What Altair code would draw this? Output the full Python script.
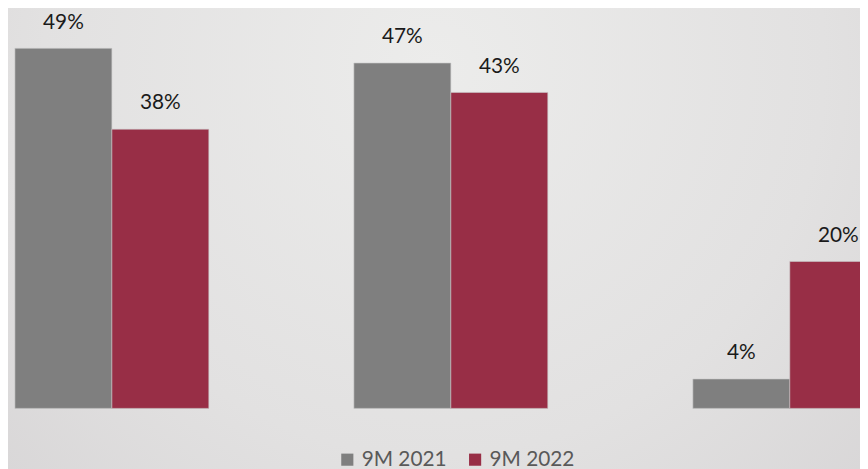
import altair as alt
import pandas as pd

groups = ["Group A", "Group B", "Group C"]
series = ["9M 2021", "9M 2022"]
values_2021 = [49, 47, 4]
values_2022 = [38, 43, 20]
labels_2021 = ["49%", "47%", "4%"]
labels_2022 = ["38%", "43%", "20%"]

rows = []
for g, v1, v2, l1, l2 in zip(groups, values_2021, values_2022, labels_2021, labels_2022):
    rows.append({"group": g, "series": series[0], "value": v1, "label": l1})
    rows.append({"group": g, "series": series[1], "value": v2, "label": l2})
df = pd.DataFrame(rows)

W, H = 860, 461
PLOT_H = 402

bg = alt.Chart(alt.Data(values=[{}])).mark_rect(
    color=alt.RadialGradient(
        gradient="radial",
        x1=0.5, y1=0.3, r1=0.0,
        x2=0.5, y2=0.3, r2=0.75,
        stops=[
            alt.GradientStop(color="#ececeb", offset=0),
            alt.GradientStop(color="#e2e1e1", offset=0.6),
            alt.GradientStop(color="#d6d4d5", offset=1),
        ],
    )
).encode(x=alt.value(-8), x2=alt.value(W + 8), y=alt.value(-8), y2=alt.value(H + 8))

x_enc = alt.X("group:N", sort=groups, axis=None,
              scale=alt.Scale(range=[7, 887], paddingInner=0.428, paddingOuter=0))
xo_enc = alt.XOffset("series:N", sort=series,
                     scale=alt.Scale(paddingInner=0, paddingOuter=0))
y_scale = alt.Scale(domain=[0, 54.2], range=[PLOT_H, 0])

bars = alt.Chart(df).mark_bar(clip=True, stroke="#c9c9c9", strokeWidth=0.6).encode(
    x=x_enc,
    xOffset=xo_enc,
    y=alt.Y("value:Q", axis=None, scale=y_scale),
    color=alt.Color(
        "series:N",
        sort=series,
        scale=alt.Scale(domain=series, range=["#7f7f7f", "#982e46"]),
        legend=alt.Legend(
            title=None,
            orient="none",
            legendX=332,
            legendY=443,
            direction="horizontal",
            symbolType="square",
            symbolSize=150,
            symbolStrokeWidth=0,
            labelFont="Lato",
            labelFontSize=21,
            labelColor="#595959",
            labelOffset=4,
            columnPadding=18,
        ),
    ),
)

text = alt.Chart(df).mark_text(
    font="Lato", fontSize=21, color="#1a1a1a", baseline="alphabetic", dy=-20
).encode(
    x=x_enc,
    xOffset=xo_enc,
    y=alt.Y("value:Q", scale=y_scale),
    text="label:N",
)

chart = alt.layer(bg, bars, text).properties(
    width=W, height=H,
    autosize=alt.AutoSizeParams(type="none"),
    padding=0,
    background="#dedddd",
).configure_view(stroke=None)

chart.save("out.html", embed_options={"renderer": "svg", "actions": False})
